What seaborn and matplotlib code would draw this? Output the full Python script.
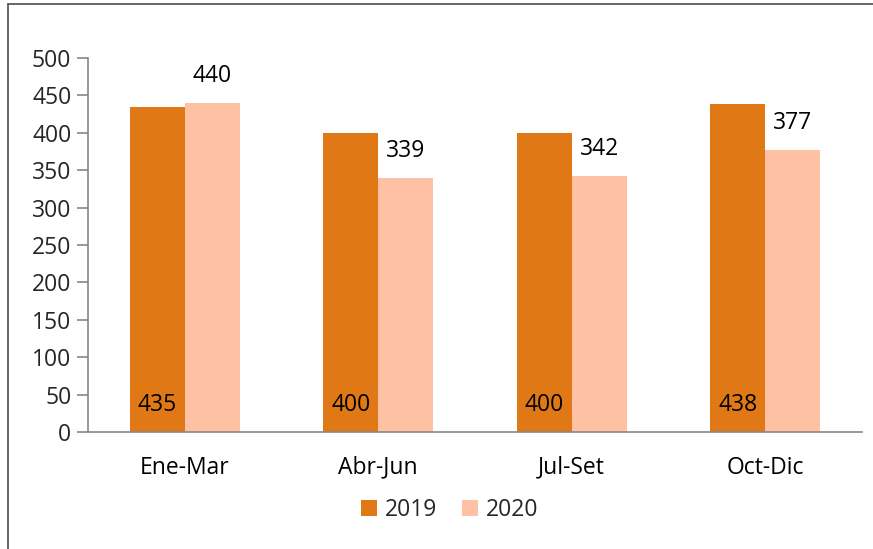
import pandas as pd
import matplotlib.pyplot as plt
import seaborn as sns
from matplotlib.lines import Line2D
from matplotlib.patches import Patch

# ── DATA ──────────────────────────────────────────────────
quarters = ["Ene-Mar", "Abr-Jun", "Jul-Set", "Oct-Dic"]
years = ["2019", "2020"]
values_2019 = [435, 400, 400, 438]
values_2020 = [440, 339, 342, 377]
yticks = [0, 50, 100, 150, 200, 250, 300, 350, 400, 450, 500]

COLORS = {"2019": "#E07816", "2020": "#FEC1A3"}

df = pd.DataFrame({
    "Trimestre": quarters * 2,
    "Año": ["2019"] * 4 + ["2020"] * 4,
    "Valor": values_2019 + values_2020,
})

# ── STYLE ─────────────────────────────────────────────────
sns.set_theme(style="white")
plt.rcParams["font.family"] = ["Open Sans", "DejaVu Sans"]
FS = 16.5
AXIS_GREY = "#888888"

fig = plt.figure(figsize=(8.73, 5.49), dpi=100)
ax = fig.add_axes([88 / 873, 1 - 432 / 549, (862 - 88) / 873, (432 - 58) / 549])

sns.barplot(data=df, x="Trimestre", y="Valor", hue="Año", order=quarters,
            hue_order=years, palette=COLORS, width=0.57, saturation=1,
            linewidth=0, ax=ax, legend=False)

ax.set_xlim(-0.5, len(quarters) - 0.5)
ax.set_ylim(0, 500)
ax.set_yticks(yticks)
ax.set_xlabel("")
ax.set_ylabel("")

# tick marks at category boundaries, labels centred
ax.set_xticks([i - 0.5 for i in range(len(quarters) + 1)], minor=True)
ax.tick_params(axis="x", which="major", length=0, labelsize=FS, pad=17, colors="black")
ax.tick_params(axis="x", which="minor", length=8, width=1.2, color=AXIS_GREY, direction="out")
ax.tick_params(axis="y", which="major", length=8, width=1.2, color=AXIS_GREY,
               direction="out", labelsize=FS, pad=4, left=True)

for side in ["top", "right"]:
    ax.spines[side].set_visible(False)
for side in ["left", "bottom"]:
    ax.spines[side].set_color(AXIS_GREY)
    ax.spines[side].set_linewidth(1.2)

# data labels: 2019 inside at the base, 2020 above the bar
c2019, c2020 = ax.containers[0], ax.containers[1]
for p, v in zip(c2019.patches, values_2019):
    ax.text(p.get_x() + p.get_width() / 2, 36, f"{v}", ha="center", va="center",
            fontsize=FS, color="black")
ax.bar_label(c2020, labels=[f"{v}" for v in values_2020], padding=11,
             fontsize=FS, color="black")

# legend
handles = [Patch(facecolor=COLORS[y], edgecolor="none") for y in years]
fig.legend(handles, years, loc="center", bbox_to_anchor=(0.515, 0.071), ncol=2,
           frameon=False, fontsize=FS, handlelength=0.7, handleheight=0.7,
           handletextpad=0.35, columnspacing=1.1)

# outer chart border (left and top visible)
fig.add_artist(Line2D([8 / 873, 8 / 873], [0, 1 - 4 / 549], transform=fig.transFigure,
                      color="#595959", linewidth=1.3))
fig.add_artist(Line2D([8 / 873, 1], [1 - 4 / 549, 1 - 4 / 549], transform=fig.transFigure,
                      color="#595959", linewidth=1.3))

plt.savefig("out.png", dpi=100, facecolor="white")
